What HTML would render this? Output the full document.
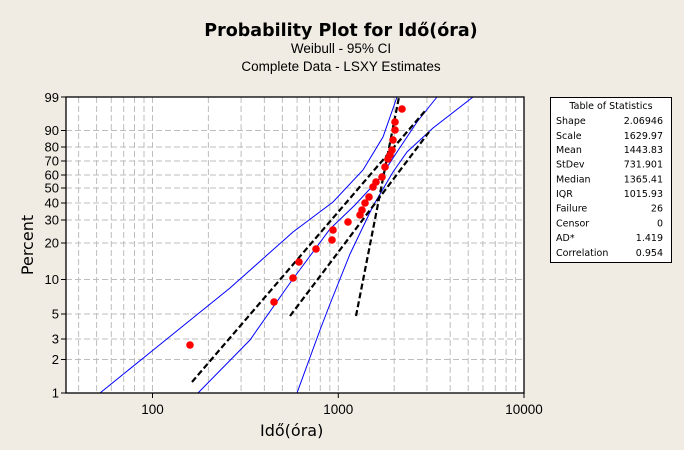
<!DOCTYPE html>
<html><head><meta charset="utf-8"><style>
body{margin:0;background:#f0ece3;}
svg{display:block;font-family:"DejaVu Sans","Liberation Sans",sans-serif;}
</style></head><body>
<svg width="684" height="450" viewBox="0 0 684 450" xmlns="http://www.w3.org/2000/svg">
<rect width="684" height="450" fill="#f0ece3"/>
<text x="341" y="36" text-anchor="middle" font-size="17.5" font-weight="bold" fill="#000">Probability Plot for Idő(óra)</text>
<text x="341" y="53" text-anchor="middle" font-size="13.5" fill="#000" font-family="Liberation Sans,sans-serif">Weibull - 95% CI</text>
<text x="341" y="71" text-anchor="middle" font-size="13.5" fill="#000" font-family="Liberation Sans,sans-serif">Complete Data - LSXY Estimates</text>
<rect x="66" y="97" width="458" height="296" fill="#fff"/>
<g stroke="#bdbdbd" stroke-width="1" stroke-dasharray="6,3" fill="none">
<path d="M78.6 97V393M96.6 97V393M111.3 97V393M123.7 97V393M134.5 97V393M144 97V393M152.5 97V393M208.4 97V393M241.1 97V393M264.4 97V393M282.4 97V393M297.1 97V393M309.5 97V393M320.3 97V393M329.8 97V393M338.3 97V393M394.2 97V393M426.9 97V393M450.2 97V393M468.2 97V393M482.9 97V393M495.3 97V393M506.1 97V393M515.6 97V393"/>
<path d="M66 130.5H524M66 147H524M66 161H524M66 175H524M66 188H524M66 203H524M66 220H524M66 243H524M66 279.5H524M66 314H524M66 339H524M66 359.5H524"/>
</g>
<g stroke="#0000ff" stroke-width="1" fill="none">
<polyline points="100,393 152,351 230,288 293,232 333,202 363,170 383,137 397,97"/>
<polyline points="198,393 250,340 290,283 330,229 355,205 380,178 397,152 417,122 437,97"/>
<polyline points="297,393 320,330 330,304 350,254 373,206 393,172 407,152 433,128 473,97"/>
</g>
<g stroke="#000" stroke-width="2.2" stroke-dasharray="6,3" fill="none">
<line x1="192" y1="382" x2="425" y2="111"/>
<line x1="290" y1="316" x2="429" y2="132"/>
<line x1="356" y1="316" x2="399" y2="97"/>
</g>
<g fill="#ff0000">
<circle cx="190" cy="345" r="3.8"/><circle cx="274" cy="302" r="3.8"/><circle cx="293" cy="278" r="3.8"/><circle cx="299" cy="262" r="3.8"/><circle cx="316" cy="249" r="3.8"/><circle cx="332" cy="240" r="3.8"/><circle cx="333" cy="230" r="3.8"/><circle cx="348" cy="222" r="3.8"/><circle cx="360" cy="215" r="3.8"/><circle cx="362" cy="210" r="3.8"/><circle cx="365" cy="203" r="3.8"/><circle cx="369" cy="197" r="3.8"/><circle cx="373" cy="187" r="3.8"/><circle cx="376" cy="182" r="3.8"/><circle cx="382" cy="177" r="3.8"/><circle cx="385" cy="167" r="3.8"/><circle cx="388" cy="159" r="3.8"/><circle cx="390" cy="155" r="3.8"/><circle cx="392" cy="150" r="3.8"/><circle cx="393" cy="140" r="3.8"/><circle cx="395" cy="130" r="3.8"/><circle cx="395" cy="122" r="3.8"/><circle cx="402" cy="109" r="3.8"/>
</g>
<rect x="66" y="97" width="458" height="296" fill="none" stroke="#000" stroke-width="1.3"/>
<g stroke="#000" stroke-width="1">
<path d="M61 97H66M61 130.5H66M61 147H66M61 161H66M61 175H66M61 188H66M61 203H66M61 220H66M61 243H66M61 279.5H66M61 314H66M61 339H66M61 359.5H66M61 393H66"/>
<path d="M152.5 393V398M338.3 393V398M524 393V398"/>
</g>
<g font-size="13" font-family="Liberation Sans,sans-serif" text-anchor="end" fill="#000">
<text x="59" y="102">99</text><text x="59" y="135">90</text><text x="59" y="151.5">80</text><text x="59" y="165.5">70</text><text x="59" y="179.5">60</text><text x="59" y="192.5">50</text><text x="59" y="207.5">40</text><text x="59" y="224.5">30</text><text x="59" y="247.5">20</text><text x="59" y="284">10</text><text x="59" y="318.5">5</text><text x="59" y="343.5">3</text><text x="59" y="364">2</text><text x="59" y="397.5">1</text>
</g>
<g font-size="13.5" font-family="Liberation Sans,sans-serif" text-anchor="middle" fill="#000">
<text x="152.5" y="414">100</text><text x="338.3" y="414">1000</text><text x="524" y="414">10000</text>
</g>
<text x="260" y="436" font-size="16" fill="#000">Idő(óra)</text>
<text transform="translate(33,245) rotate(-90)" text-anchor="middle" font-size="16" fill="#000">Percent</text>
<rect x="550.5" y="97.5" width="121" height="165" fill="#fff" stroke="#000" stroke-width="1"/>
<g font-size="9.5" fill="#000">
<text x="611" y="109" text-anchor="middle">Table of Statistics</text>
<text x="556" y="124">Shape</text><text x="556" y="139">Scale</text><text x="556" y="153">Mean</text><text x="556" y="167.5">StDev</text><text x="556" y="182.5">Median</text><text x="556" y="197">IQR</text><text x="556" y="211.5">Failure</text><text x="556" y="226.5">Censor</text><text x="556" y="241">AD*</text><text x="556" y="256">Correlation</text>
</g>
<g font-size="9.5" fill="#000" text-anchor="end">
<text x="663" y="124">2.06946</text><text x="663" y="139">1629.97</text><text x="663" y="153">1443.83</text><text x="663" y="167.5">731.901</text><text x="663" y="182.5">1365.41</text><text x="663" y="197">1015.93</text><text x="663" y="211.5">26</text><text x="663" y="226.5">0</text><text x="663" y="241">1.419</text><text x="663" y="256">0.954</text>
</g>
</svg>
</body></html>
